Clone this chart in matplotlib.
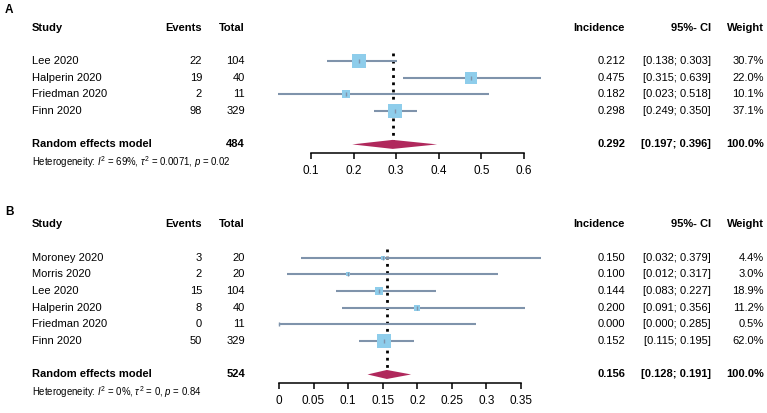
import matplotlib
matplotlib.use("Agg")
import matplotlib.pyplot as plt
import matplotlib.transforms as mtrans
import numpy as np

plt.rcParams['font.family'] = ['Liberation Sans', 'DejaVu Sans']
plt.rcParams['mathtext.fontset'] = 'custom'
plt.rcParams['mathtext.rm'] = 'Liberation Sans'
plt.rcParams['mathtext.it'] = 'Liberation Sans:italic'

# panel A data
studies_a = ["Lee 2020", "Halperin 2020", "Friedman 2020", "Finn 2020"]
events_a = [22, 19, 2, 98]
total_a = [104, 40, 11, 329]
inc_a = [0.212, 0.475, 0.182, 0.298]
lo_a = [0.138, 0.315, 0.023, 0.249]
hi_a = [0.303, 0.639, 0.518, 0.350]
weight_a = [30.7, 22.0, 10.1, 37.1]
pooled_a = [0.292, 0.197, 0.396]
n_a = 484
het_a = r"Heterogeneity: $\mathit{I}^2$ = 69%, $\tau^2$ = 0.0071, $\mathit{p}$ = 0.02"
ticks_a = [0.1, 0.2, 0.3, 0.4, 0.5, 0.6]

# panel B data
studies_b = ["Moroney 2020", "Morris 2020", "Lee 2020", "Halperin 2020",
             "Friedman 2020", "Finn 2020"]
events_b = [3, 2, 15, 8, 0, 50]
total_b = [20, 20, 104, 40, 11, 329]
inc_b = [0.150, 0.100, 0.144, 0.200, 0.000, 0.152]
lo_b = [0.032, 0.012, 0.083, 0.091, 0.000, 0.115]
hi_b = [0.379, 0.317, 0.227, 0.356, 0.285, 0.195]
weight_b = [4.4, 3.0, 18.9, 11.2, 0.5, 62.0]
pooled_b = [0.156, 0.128, 0.191]
n_b = 524
het_b = r"Heterogeneity: $\mathit{I}^2$ = 0%, $\tau^2$ = 0, $\mathit{p}$ = 0.84"
ticks_b = [0, 0.05, 0.1, 0.15, 0.2, 0.25, 0.3, 0.35]

W, H = 767, 413
SQ = "#8ecdeb"
LN = "#7f93ab"
DIA = "#b0285c"
FS = 8.0

fig = plt.figure(figsize=(W / 100, H / 100), dpi=100)


def forest(top, bot, xl, xr, row0, studies, events, total, inc, lo, hi, weight,
           pooled, n, het, ticks, label, lab_y):
    # plot region spans x pixels 260..545, y pixels top..bot
    ax = fig.add_axes([260 / W, 1 - bot / H, 285 / W, (bot - top) / H])
    k = len(studies)
    sp = 16.68
    ax.set_ylim((bot - row0) / sp, (top - row0) / sp)
    ax.set_xlim(xl, xr)
    rows = np.arange(k)
    rrow = k + 1
    wmax = max(weight)
    for r, e, a, b, w in zip(rows, inc, lo, hi, weight):
        ax.plot([a, b], [r, r], color=LN, lw=1.5, solid_capstyle='butt', zorder=2)
        ax.plot(e, r, marker='s', ms=10.5 * np.sqrt(w / wmax), color=SQ, mew=0, zorder=3)
        ax.plot(e, r, marker='|', ms=3.5, color=LN, mew=1, zorder=4)
    ax.plot([pooled[0], pooled[0]], [-0.5, rrow], color='black', lw=2,
            ls=(0, (1, 1.6)), zorder=1)
    h = 0.27
    ax.fill([pooled[1], pooled[0], pooled[2], pooled[0]],
            [rrow, rrow - h, rrow, rrow + h], color=DIA, lw=0, zorder=3)

    for s in ['top', 'left', 'right']:
        ax.spines[s].set_visible(False)
    ax.spines['bottom'].set_position(('data', rrow + 0.5))
    ax.spines['bottom'].set_bounds(ticks[0], ticks[-1])
    ax.spines['bottom'].set_linewidth(1.1)
    ax.set_yticks([])
    ax.set_xticks(ticks)
    ax.set_xticklabels(["%g" % t for t in ticks])
    ax.tick_params(axis='x', length=4.5, width=1.1, pad=4.5, labelsize=8.5)
    ax.patch.set_visible(False)

    tr = mtrans.blended_transform_factory(fig.transFigure, ax.transData)

    def txt(px, y, s, ha='left', bold=False, size=FS):
        ax.text(px / W, y, s, transform=tr, ha=ha, va='center', fontsize=size,
                fontweight='bold' if bold else 'normal', clip_on=False)

    hdr = -2
    txt(32, hdr, "Study", bold=True)
    txt(202, hdr, "Events", 'right', True)
    txt(245, hdr, "Total", 'right', True)
    txt(625, hdr, "Incidence", 'right', True)
    txt(711, hdr, "95%- CI", 'right', True)
    txt(764, hdr, "Weight", 'right', True)
    for r in rows:
        txt(32, r, studies[r])
        txt(202, r, str(events[r]), 'right')
        txt(245, r, str(total[r]), 'right')
        txt(625, r, "%.3f" % inc[r], 'right')
        txt(711, r, "[%.3f; %.3f]" % (lo[r], hi[r]), 'right')
        txt(764, r, "%.1f%%" % weight[r], 'right')
    txt(32, rrow, "Random effects model", bold=True)
    txt(245, rrow, str(n), 'right', True)
    txt(625, rrow, "%.3f" % pooled[0], 'right', True)
    txt(711, rrow, "[%.3f; %.3f]" % (pooled[1], pooled[2]), 'right', True)
    txt(764, rrow, "100.0%", 'right', True)
    txt(32, rrow + 1.05, het, size=6.9)
    fig.text(5 / W, 1 - lab_y / H, label, fontsize=8.5, fontweight='bold',
             ha='left', va='center')


forest(0, 206, 0.1 - 51 / 427, 0.6 + 21 / 427, 61, studies_a, events_a, total_a,
       inc_a, lo_a, hi_a, weight_a, pooled_a, n_a, het_a, ticks_a, "A", 10)
forest(206, 413, -19 / 692, 0.35 + 24 / 692, 257.7, studies_b, events_b, total_b,
       inc_b, lo_b, hi_b, weight_b, pooled_b, n_b, het_b, ticks_b, "B", 212)

fig.savefig("out.png", dpi=100)
